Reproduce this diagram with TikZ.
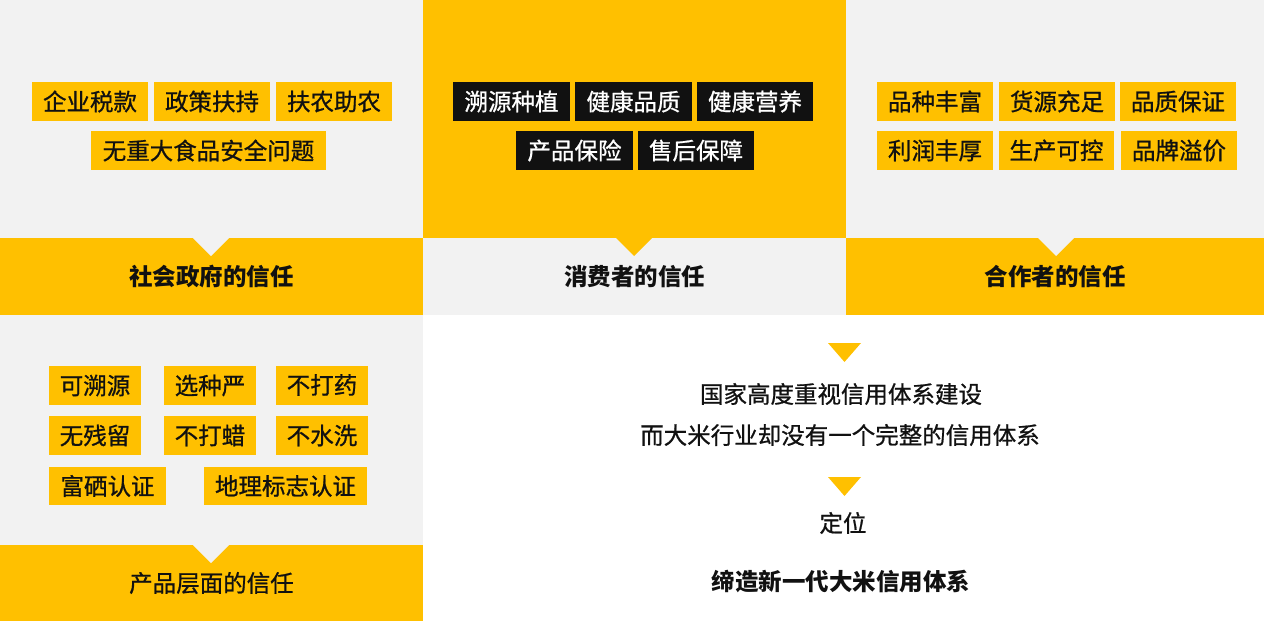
\documentclass[tikz,border=0pt]{standalone}
\usepackage{fontspec}
\setmainfont{Noto Sans CJK SC}
\newfontfamily\medfont{Noto Sans CJK SC}[FakeBold=0.8]
\definecolor{yel}{HTML}{FFC000}
\definecolor{gry}{HTML}{F2F2F2}
\definecolor{ink}{HTML}{111111}
\begin{document}
\begin{tikzpicture}[x=1pt,y=-1pt,
  tag/.style={fill=yel,text=ink,inner sep=0pt,minimum height=39pt,font=\medfont\fontsize{23.5}{25}\selectfont},
  darktag/.style={fill=ink,text=white,inner sep=0pt,minimum height=39pt,font=\medfont\fontsize{23.5}{25}\selectfont},
  title/.style={text=ink,inner sep=0pt,font=\fontsize{23.5}{25}\selectfont\bfseries},
  plain/.style={text=ink,inner sep=0pt,font=\medfont\fontsize{23.5}{25}\selectfont},
  tri/.style={fill=yel}]
\useasboundingbox (0,0) rectangle (1264,621);
% panels
\fill[gry] (0,0) rectangle (423,238);
\fill[yel] (0,238) rectangle (423,315);
\fill[gry] (193,238) -- (229,238) -- (211,256) -- cycle;
\fill[yel] (423,0) rectangle (846,238);
\fill[gry] (423,238) rectangle (846,315);
\fill[yel] (616,238) -- (652,238) -- (634,256) -- cycle;
\fill[gry] (846,0) rectangle (1264,238);
\fill[yel] (846,238) rectangle (1264,315);
\fill[gry] (1038,238) -- (1074,238) -- (1056,256) -- cycle;
\fill[gry] (0,315) rectangle (423,545);
\fill[yel] (0,545) rectangle (423,621);
\fill[gry] (193,545) -- (229,545) -- (211,563) -- cycle;
\fill[white] (423,315) rectangle (1264,621);
% top-left tags
\node[tag,minimum width=116pt] (t1) at (90,101.5) {企业税款};
\node[tag,minimum width=116pt] (t2) at (212,101.5) {政策扶持};
\node[tag,minimum width=116pt] (t3) at (334,101.5) {扶农助农};
\node[tag,minimum width=235pt] (t4) at (208.5,150.5) {无重大食品安全问题};
\node[title] (h1) at (211.5,277) {社会政府的信任};
% middle tags
\node[darktag,minimum width=117pt] (m1) at (511.5,101.5) {溯源种植};
\node[darktag,minimum width=117pt] (m2) at (633.5,101.5) {健康品质};
\node[darktag,minimum width=116pt] (m3) at (755,101.5) {健康营养};
\node[darktag,minimum width=117pt] (m4) at (574.5,150.5) {产品保险};
\node[darktag,minimum width=116pt] (m5) at (696,150.5) {售后保障};
\node[title] (h2) at (634.5,277) {消费者的信任};
% right tags
\node[tag,minimum width=116pt] (r1) at (935,101.5) {品种丰富};
\node[tag,minimum width=116pt] (r2) at (1057,101.5) {货源充足};
\node[tag,minimum width=116pt] (r3) at (1178,101.5) {品质保证};
\node[tag,minimum width=116pt] (r4) at (935,150.5) {利润丰厚};
\node[tag,minimum width=115pt] (r5) at (1056.5,150.5) {生产可控};
\node[tag,minimum width=116pt] (r6) at (1179,150.5) {品牌溢价};
\node[title] (h3) at (1055,277) {合作者的信任};
% bottom-left tags
\node[tag,minimum width=92pt] (b1) at (95,385.5) {可溯源};
\node[tag,minimum width=92pt] (b2) at (210,385.5) {选种严};
\node[tag,minimum width=92pt] (b3) at (322,385) {不打药};
\node[tag,minimum width=92pt] (b4) at (95,435.5) {无残留};
\node[tag,minimum width=92pt] (b5) at (210,435.5) {不打蜡};
\node[tag,minimum width=92pt] (b6) at (322,435.5) {不水洗};
\node[tag,minimum width=117pt,minimum height=38pt] (b7) at (107.5,486) {富硒认证};
\node[tag,minimum width=163pt,minimum height=38pt] (b8) at (285.5,486) {地理标志认证};
\node[plain] (h4) at (211.5,583) {产品层面的信任};
% right region
\fill[tri] (828,343) -- (861,343) -- (844.5,362) -- cycle;
\node[plain] (p1) at (841,394) {国家高度重视信用体系建设};
\node[plain] (p2) at (840,435) {而大米行业却没有一个完整的信用体系};
\fill[tri] (828,477) -- (861,477) -- (844.5,496) -- cycle;
\node[plain] (p3) at (843,523) {定位};
\node[title] (p4) at (841,582) {缔造新一代大米信用体系};
\end{tikzpicture}
\end{document}
